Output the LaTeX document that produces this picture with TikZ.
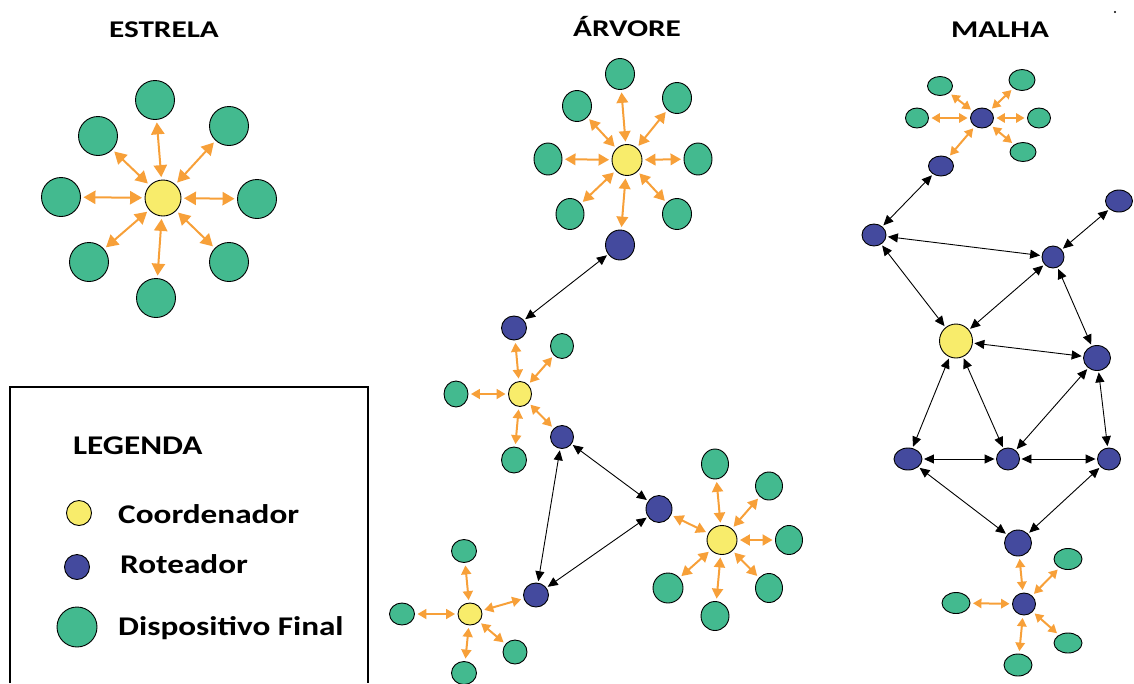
\documentclass[tikz,border=0pt]{standalone}
\usepackage{fontspec}
\setmainfont{Carlito}[FakeStretch=1.3]
\newfontfamily\legendfont{Carlito}[FakeStretch=1.23]
\usetikzlibrary{arrows.meta,shapes.geometric}

\definecolor{devgreen}{RGB}{67,186,143}
\definecolor{coordyellow}{RGB}{248,236,107}
\definecolor{routerblue}{RGB}{68,74,158}
\definecolor{linkorange}{RGB}{247,160,57}

\tikzset{
  nd/.style={ellipse, draw=black, line width=0.9pt, inner sep=0pt},
  wh/.style 2 args={minimum width=#1, minimum height=#2},
  dev/.style={nd, fill=devgreen},
  coord/.style={nd, fill=coordyellow},
  rout/.style={nd, fill=routerblue},
  oa/.style={draw=linkorange, line width=2pt,
    >={Triangle[length=#1,width=1.1*#1]}, <->,
    shorten <=2.5pt, shorten >=2.5pt},
  oa/.default=9pt,
  ba/.style={draw=black, line width=0.9pt,
    >={Triangle[length=10pt,width=9pt]}, <->,
    shorten <=1.5pt, shorten >=1.5pt},
  ttl/.style={font=\bfseries\fontsize{24}{28}\selectfont, anchor=base, inner sep=0pt},
  leg/.style={font=\legendfont\bfseries\fontsize{27}{32}\selectfont, anchor=base west, inner sep=0pt},
}

\begin{document}
\begin{tikzpicture}[x=1pt,y=-1pt]
\useasboundingbox (0,0) rectangle (1134,683);

% ---------- titles ----------
\node[ttl] (tstar) at (164,37) {ESTRELA};
\node[ttl] (ttree) at (627,36) {ÁRVORE};
\node[ttl] (tmesh) at (1000,37) {MALHA};
\fill (1115,12) circle (1.2);

% ---------- star ----------
\node[coord, wh={36}{36}] (s0) at (163,198) {};
\node[dev, wh={39}{39}] (s1) at (155,100) {};
\node[dev, wh={39}{39}] (s2) at (98,136) {};
\node[dev, wh={39}{39}] (s3) at (229,126) {};
\node[dev, wh={39}{39}] (s4) at (61,197) {};
\node[dev, wh={39}{39}] (s5) at (257,199) {};
\node[dev, wh={39}{39}] (s6) at (89,262) {};
\node[dev, wh={39}{39}] (s7) at (229,262) {};
\node[dev, wh={39}{39}] (s8) at (156,298) {};
\foreach \i in {1,...,8} \draw[oa=12pt] (s0) -- (s\i);

% ---------- tree: top cluster ----------
\node[coord, wh={30}{31}] (t0) at (627,160) {};
\node[dev, wh={29}{31}] (t1) at (620,74) {};
\node[dev, wh={29}{31}] (t2) at (577,106) {};
\node[dev, wh={29}{31}] (t3) at (677,98) {};
\node[dev, wh={28}{32}] (t4) at (548,159) {};
\node[dev, wh={28}{32}] (t5) at (698,159) {};
\node[dev, wh={28}{31}] (t6) at (570,214) {};
\node[dev, wh={29}{31}] (t7) at (677,214) {};
\node[rout, wh={29}{30}] (tr) at (620,245) {};
\foreach \i in {1,...,7} \draw[oa=10.5pt] (t0) -- (t\i);
\draw[oa=10.5pt] (t0) -- (tr);

% ---------- tree: middle cluster ----------
\node[coord, wh={23}{25}] (m0) at (520,394) {};
\node[rout, wh={25}{24}] (mr1) at (514,328) {};
\node[rout, wh={23}{23}] (mr2) at (562,437) {};
\node[dev, wh={23}{25}] (m1) at (562,346) {};
\node[dev, wh={24}{26}] (m2) at (456,394) {};
\node[dev, wh={25}{26}] (m3) at (514,460) {};
\foreach \n in {mr1,mr2,m1,m2,m3} \draw[oa=9pt] (m0) -- (\n);

% ---------- tree: lower-left cluster ----------
\node[coord, wh={24}{22}] (b0) at (470,614) {};
\node[rout, wh={25}{24}] (br) at (536,595) {};
\node[dev, wh={25}{23}] (b1) at (464,551) {};
\node[dev, wh={25}{22}] (b2) at (402,614) {};
\node[dev, wh={25}{23}] (b3) at (464,673) {};
\node[dev, wh={24}{24}] (b4) at (515,652) {};
\foreach \n in {br,b1,b2,b3,b4} \draw[oa=9pt] (b0) -- (\n);

% ---------- tree: lower-right cluster ----------
\node[coord, wh={30}{29}] (c0) at (722,540) {};
\node[rout, wh={26}{27}] (cr) at (659,509) {};
\node[dev, wh={27}{30}] (c1) at (715,464) {};
\node[dev, wh={27}{28}] (c2) at (769,486) {};
\node[dev, wh={27}{29}] (c3) at (789,540) {};
\node[dev, wh={27}{29}] (c4) at (769,588) {};
\node[dev, wh={28}{29}] (c5) at (715,616) {};
\node[dev, wh={30}{30}] (c6) at (668,588) {};
\foreach \n in {cr,c1,c2,c3,c4,c5,c6} \draw[oa=10pt] (c0) -- (\n);

% ---------- tree: router links ----------
\draw[ba] (tr) -- (mr1);
\draw[ba] (mr2) -- (cr);
\draw[ba] (mr2) -- (br);
\draw[ba] (br) -- (cr);

% ---------- mesh: top cluster ----------
\node[rout, wh={23}{20}] (h0) at (982,118) {};
\node[dev, wh={25}{19}] (h1) at (940,86) {};
\node[dev, wh={23}{20}] (h2) at (917,118) {};
\node[dev, wh={26}{21}] (h3) at (1022,80) {};
\node[dev, wh={23}{20}] (h4) at (1039,118) {};
\node[dev, wh={26}{19}] (h5) at (1023,152) {};
\node[rout, wh={25}{20}] (hr) at (941,166) {};
\foreach \n in {h1,h2,h3,h4,h5,hr} \draw[oa=8.5pt] (h0) -- (\n);

% ---------- mesh: core ----------
\node[rout, wh={24}{22}] (mA) at (874,235) {};
\node[rout, wh={27}{22}] (mB) at (1119,201) {};
\node[rout, wh={22}{22}] (mC) at (1053,257) {};
\node[coord, wh={33}{34}] (mY) at (956,341) {};
\node[rout, wh={27}{25}] (mD) at (1097,358) {};
\node[rout, wh={28}{22}] (mE) at (908,459) {};
\node[rout, wh={23}{22}] (mF) at (1008,459) {};
\node[rout, wh={23}{22}] (mG) at (1109,459) {};
\node[rout, wh={27}{26}] (mH) at (1018,543) {};
\draw[ba] (hr) -- (mA);
\draw[ba] (mA) -- (mC);
\draw[ba] (mB) -- (mC);
\draw[ba] (mA) -- (mY);
\draw[ba] (mC) -- (mY);
\draw[ba] (mC) -- (mD);
\draw[ba] (mY) -- (mD);
\draw[ba] (mY) -- (mE);
\draw[ba] (mY) -- (mF);
\draw[ba] (mD) -- (mF);
\draw[ba] (mD) -- (mG);
\draw[ba] (mE) -- (mF);
\draw[ba] (mF) -- (mG);
\draw[ba] (mE) -- (mH);
\draw[ba] (mG) -- (mH);

% ---------- mesh: bottom cluster ----------
\node[rout, wh={23}{22}] (k0) at (1024,604) {};
\node[dev, wh={28}{21}] (k1) at (1068,559) {};
\node[dev, wh={28}{21}] (k2) at (956,603) {};
\node[dev, wh={28}{20}] (k3) at (1068,643) {};
\node[dev, wh={28}{22}] (k4) at (1018,665) {};
\foreach \n in {mH,k1,k2,k3,k4} \draw[oa=8.5pt] (k0) -- (\n);

% ---------- legend ----------
\draw[line width=1.2pt] (10,683) -- (10,387) -- (368,387) -- (368,683);
\node[leg] (lgtitle) at (73,454) {LEGENDA};
\node[coord, wh={25}{25}] (lgc) at (79,513) {};
\node[rout, wh={25}{25}] (lgr) at (77,567) {};
\node[dev, wh={40}{40}] (lgd) at (77,627) {};
\node[leg] (lgct) at (118,523) {Coordenador};
\node[leg] (lgrt) at (120,573) {Roteador};
\node[leg] (lgdt) at (118,635) {Dispositivo Final};
\end{tikzpicture}
\end{document}
